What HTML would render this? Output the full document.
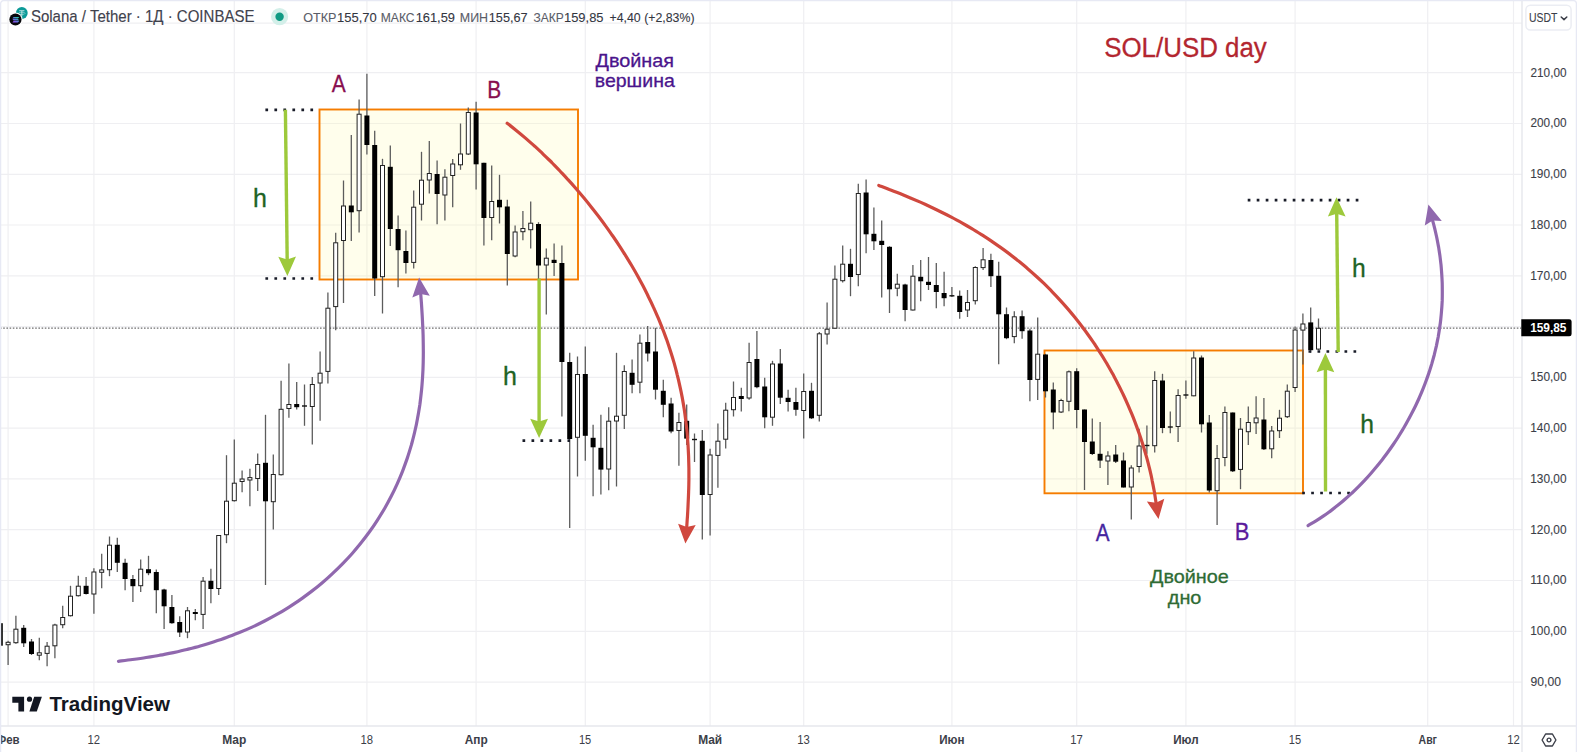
<!DOCTYPE html>
<html lang="ru"><head><meta charset="utf-8"><title>SOL/USD day — Solana / Tether</title>
<style>html,body{margin:0;padding:0;background:#fff;}body{width:1577px;height:752px;overflow:hidden;font-family:'Liberation Sans', Arial, sans-serif;}svg{display:block;font-family:'Liberation Sans', Arial, sans-serif;}</style>
</head><body>
<svg width="1577" height="752" viewBox="0 0 1577 752">
<rect x="0" y="0" width="1577" height="752" fill="#ffffff"/>
<g id="grid" stroke="#efeff2" stroke-width="1.2" shape-rendering="auto">
<line x1="8.1" y1="0" x2="8.1" y2="726"/>
<line x1="93.9" y1="0" x2="93.9" y2="726"/>
<line x1="234.3" y1="0" x2="234.3" y2="726"/>
<line x1="366.9" y1="0" x2="366.9" y2="726"/>
<line x1="476.1" y1="0" x2="476.1" y2="726"/>
<line x1="585.3" y1="0" x2="585.3" y2="726"/>
<line x1="710.1" y1="0" x2="710.1" y2="726"/>
<line x1="803.7" y1="0" x2="803.7" y2="726"/>
<line x1="951.9" y1="0" x2="951.9" y2="726"/>
<line x1="1076.7" y1="0" x2="1076.7" y2="726"/>
<line x1="1185.9" y1="0" x2="1185.9" y2="726"/>
<line x1="1295.1" y1="0" x2="1295.1" y2="726"/>
<line x1="1427.7" y1="0" x2="1427.7" y2="726"/>
<line x1="1513.5" y1="0" x2="1513.5" y2="726"/>
<line x1="0" y1="23.2" x2="1522" y2="23.2"/>
<line x1="0" y1="72.7" x2="1522" y2="72.7"/>
<line x1="0" y1="123.5" x2="1522" y2="123.5"/>
<line x1="0" y1="174.3" x2="1522" y2="174.3"/>
<line x1="0" y1="225.0" x2="1522" y2="225.0"/>
<line x1="0" y1="275.8" x2="1522" y2="275.8"/>
<line x1="0" y1="326.6" x2="1522" y2="326.6"/>
<line x1="0" y1="377.4" x2="1522" y2="377.4"/>
<line x1="0" y1="428.2" x2="1522" y2="428.2"/>
<line x1="0" y1="478.9" x2="1522" y2="478.9"/>
<line x1="0" y1="529.7" x2="1522" y2="529.7"/>
<line x1="0" y1="580.5" x2="1522" y2="580.5"/>
<line x1="0" y1="631.3" x2="1522" y2="631.3"/>
<line x1="0" y1="682.1" x2="1522" y2="682.1"/>
</g>
<rect x="319.5" y="109.5" width="258.5" height="170.0" fill="rgba(255,250,150,0.18)" stroke="#f57c00" stroke-width="1.9"/>
<rect x="1044.5" y="350.5" width="258.5" height="142.8" fill="rgba(255,250,150,0.18)" stroke="#f57c00" stroke-width="1.9"/>
<line x1="0" y1="328.2" x2="1522" y2="328.2" stroke="#6e6e6e" stroke-width="1.3" stroke-dasharray="1.6 1.6"/>
<g id="candles">
<line x1="0.30" y1="618.2" x2="0.30" y2="650.8" stroke="#5c5c5c" stroke-width="1.3"/>
<rect x="-2.20" y="623.2" width="5.0" height="22.5" fill="#000"/>
<line x1="8.10" y1="640.8" x2="8.10" y2="665.0" stroke="#5c5c5c" stroke-width="1.3"/>
<rect x="6.10" y="642.3" width="4.0" height="2.4" fill="#fff" stroke="#222" stroke-width="1"/>
<line x1="15.90" y1="615.8" x2="15.90" y2="643.8" stroke="#5c5c5c" stroke-width="1.3"/>
<rect x="13.90" y="629.2" width="4.0" height="13.5" fill="#fff" stroke="#222" stroke-width="1"/>
<line x1="23.70" y1="625.0" x2="23.70" y2="647.0" stroke="#5c5c5c" stroke-width="1.3"/>
<rect x="21.20" y="627.8" width="5.0" height="15.5" fill="#000"/>
<line x1="31.50" y1="639.0" x2="31.50" y2="655.0" stroke="#5c5c5c" stroke-width="1.3"/>
<rect x="29.00" y="641.5" width="5.0" height="12.5" fill="#000"/>
<line x1="39.30" y1="637.8" x2="39.30" y2="660.2" stroke="#5c5c5c" stroke-width="1.3"/>
<rect x="37.30" y="652.8" width="4.0" height="2.4" fill="#fff" stroke="#222" stroke-width="1"/>
<line x1="47.10" y1="642.0" x2="47.10" y2="666.2" stroke="#5c5c5c" stroke-width="1.3"/>
<rect x="45.10" y="646.2" width="4.0" height="7.2" fill="#fff" stroke="#222" stroke-width="1"/>
<line x1="54.90" y1="623.8" x2="54.90" y2="658.2" stroke="#5c5c5c" stroke-width="1.3"/>
<rect x="52.90" y="625.0" width="4.0" height="20.8" fill="#fff" stroke="#222" stroke-width="1"/>
<line x1="62.70" y1="605.8" x2="62.70" y2="628.2" stroke="#5c5c5c" stroke-width="1.3"/>
<rect x="60.70" y="617.5" width="4.0" height="7.2" fill="#fff" stroke="#222" stroke-width="1"/>
<line x1="70.50" y1="585.8" x2="70.50" y2="616.5" stroke="#5c5c5c" stroke-width="1.3"/>
<rect x="68.50" y="596.2" width="4.0" height="19.5" fill="#fff" stroke="#222" stroke-width="1"/>
<line x1="78.30" y1="575.8" x2="78.30" y2="596.5" stroke="#5c5c5c" stroke-width="1.3"/>
<rect x="76.30" y="586.2" width="4.0" height="9.5" fill="#fff" stroke="#222" stroke-width="1"/>
<line x1="86.10" y1="577.0" x2="86.10" y2="594.5" stroke="#5c5c5c" stroke-width="1.3"/>
<rect x="83.60" y="585.8" width="5.0" height="8.2" fill="#000"/>
<line x1="93.90" y1="568.2" x2="93.90" y2="613.8" stroke="#5c5c5c" stroke-width="1.3"/>
<rect x="91.90" y="572.0" width="4.0" height="22.0" fill="#fff" stroke="#222" stroke-width="1"/>
<line x1="101.70" y1="553.8" x2="101.70" y2="588.2" stroke="#5c5c5c" stroke-width="1.3"/>
<rect x="99.70" y="569.9" width="4.0" height="2.4" fill="#fff" stroke="#222" stroke-width="1"/>
<line x1="109.50" y1="536.5" x2="109.50" y2="576.2" stroke="#5c5c5c" stroke-width="1.3"/>
<rect x="107.50" y="545.2" width="4.0" height="24.5" fill="#fff" stroke="#222" stroke-width="1"/>
<line x1="117.30" y1="537.8" x2="117.30" y2="572.0" stroke="#5c5c5c" stroke-width="1.3"/>
<rect x="114.80" y="544.8" width="5.0" height="18.0" fill="#000"/>
<line x1="125.10" y1="558.8" x2="125.10" y2="590.2" stroke="#5c5c5c" stroke-width="1.3"/>
<rect x="122.60" y="562.8" width="5.0" height="16.2" fill="#000"/>
<line x1="132.90" y1="575.0" x2="132.90" y2="602.0" stroke="#5c5c5c" stroke-width="1.3"/>
<rect x="130.40" y="579.0" width="5.0" height="7.2" fill="#000"/>
<line x1="140.70" y1="559.5" x2="140.70" y2="592.0" stroke="#5c5c5c" stroke-width="1.3"/>
<rect x="138.70" y="569.2" width="4.0" height="16.5" fill="#fff" stroke="#222" stroke-width="1"/>
<line x1="148.50" y1="555.8" x2="148.50" y2="575.2" stroke="#5c5c5c" stroke-width="1.3"/>
<rect x="146.00" y="569.2" width="5.0" height="4.0" fill="#000"/>
<line x1="156.30" y1="569.5" x2="156.30" y2="613.2" stroke="#5c5c5c" stroke-width="1.3"/>
<rect x="153.80" y="572.0" width="5.0" height="18.2" fill="#000"/>
<line x1="164.10" y1="588.8" x2="164.10" y2="629.0" stroke="#5c5c5c" stroke-width="1.3"/>
<rect x="161.60" y="589.5" width="5.0" height="16.8" fill="#000"/>
<line x1="171.90" y1="595.0" x2="171.90" y2="623.8" stroke="#5c5c5c" stroke-width="1.3"/>
<rect x="169.40" y="607.0" width="5.0" height="16.2" fill="#000"/>
<line x1="179.70" y1="616.2" x2="179.70" y2="637.0" stroke="#5c5c5c" stroke-width="1.3"/>
<rect x="177.20" y="622.0" width="5.0" height="10.5" fill="#000"/>
<line x1="187.50" y1="607.0" x2="187.50" y2="638.2" stroke="#5c5c5c" stroke-width="1.3"/>
<rect x="185.50" y="610.8" width="4.0" height="21.2" fill="#fff" stroke="#222" stroke-width="1"/>
<line x1="195.30" y1="609.0" x2="195.30" y2="620.2" stroke="#5c5c5c" stroke-width="1.3"/>
<rect x="192.80" y="612.0" width="5.0" height="2.0" fill="#000"/>
<line x1="203.10" y1="577.0" x2="203.10" y2="629.0" stroke="#5c5c5c" stroke-width="1.3"/>
<rect x="201.10" y="581.2" width="4.0" height="33.2" fill="#fff" stroke="#222" stroke-width="1"/>
<line x1="210.90" y1="568.8" x2="210.90" y2="603.2" stroke="#5c5c5c" stroke-width="1.3"/>
<rect x="208.40" y="580.8" width="5.0" height="8.2" fill="#000"/>
<line x1="218.70" y1="535.0" x2="218.70" y2="595.0" stroke="#5c5c5c" stroke-width="1.3"/>
<rect x="216.70" y="535.5" width="4.0" height="53.0" fill="#fff" stroke="#222" stroke-width="1"/>
<line x1="226.50" y1="455.2" x2="226.50" y2="543.2" stroke="#5c5c5c" stroke-width="1.3"/>
<rect x="224.50" y="501.2" width="4.0" height="33.5" fill="#fff" stroke="#222" stroke-width="1"/>
<line x1="234.30" y1="439.5" x2="234.30" y2="501.5" stroke="#5c5c5c" stroke-width="1.3"/>
<rect x="232.30" y="483.2" width="4.0" height="17.5" fill="#fff" stroke="#222" stroke-width="1"/>
<line x1="242.10" y1="470.5" x2="242.10" y2="492.3" stroke="#5c5c5c" stroke-width="1.3"/>
<rect x="240.10" y="479.0" width="4.0" height="2.5" fill="#fff" stroke="#222" stroke-width="1"/>
<line x1="249.90" y1="468.8" x2="249.90" y2="506.2" stroke="#5c5c5c" stroke-width="1.3"/>
<rect x="247.90" y="477.6" width="4.0" height="2.4" fill="#fff" stroke="#222" stroke-width="1"/>
<line x1="257.70" y1="453.5" x2="257.70" y2="491.0" stroke="#5c5c5c" stroke-width="1.3"/>
<rect x="255.70" y="464.5" width="4.0" height="14.0" fill="#fff" stroke="#222" stroke-width="1"/>
<line x1="265.50" y1="414.8" x2="265.50" y2="585.0" stroke="#5c5c5c" stroke-width="1.3"/>
<rect x="263.00" y="462.8" width="5.0" height="38.5" fill="#000"/>
<line x1="273.30" y1="454.6" x2="273.30" y2="529.5" stroke="#5c5c5c" stroke-width="1.3"/>
<rect x="271.30" y="474.5" width="4.0" height="27.2" fill="#fff" stroke="#222" stroke-width="1"/>
<line x1="281.10" y1="380.8" x2="281.10" y2="475.5" stroke="#5c5c5c" stroke-width="1.3"/>
<rect x="279.10" y="409.3" width="4.0" height="65.4" fill="#fff" stroke="#222" stroke-width="1"/>
<line x1="288.90" y1="363.5" x2="288.90" y2="417.8" stroke="#5c5c5c" stroke-width="1.3"/>
<rect x="286.90" y="404.5" width="4.0" height="4.0" fill="#fff" stroke="#222" stroke-width="1"/>
<line x1="296.70" y1="382.0" x2="296.70" y2="409.5" stroke="#5c5c5c" stroke-width="1.3"/>
<rect x="294.20" y="404.0" width="5.0" height="3.2" fill="#000"/>
<line x1="304.50" y1="384.5" x2="304.50" y2="425.8" stroke="#5c5c5c" stroke-width="1.3"/>
<line x1="302.00" y1="406.0" x2="307.00" y2="406.0" stroke="#111" stroke-width="1.4"/>
<line x1="312.30" y1="377.0" x2="312.30" y2="444.5" stroke="#5c5c5c" stroke-width="1.3"/>
<rect x="310.30" y="384.5" width="4.0" height="22.0" fill="#fff" stroke="#222" stroke-width="1"/>
<line x1="320.10" y1="351.5" x2="320.10" y2="420.8" stroke="#5c5c5c" stroke-width="1.3"/>
<rect x="318.10" y="373.2" width="4.0" height="9.8" fill="#fff" stroke="#222" stroke-width="1"/>
<line x1="327.90" y1="292.5" x2="327.90" y2="383.5" stroke="#5c5c5c" stroke-width="1.3"/>
<rect x="325.90" y="308.2" width="4.0" height="63.2" fill="#fff" stroke="#222" stroke-width="1"/>
<line x1="335.70" y1="232.8" x2="335.70" y2="330.2" stroke="#5c5c5c" stroke-width="1.3"/>
<rect x="333.70" y="242.8" width="4.0" height="63.8" fill="#fff" stroke="#222" stroke-width="1"/>
<line x1="343.50" y1="180.5" x2="343.50" y2="303.0" stroke="#5c5c5c" stroke-width="1.3"/>
<rect x="341.50" y="206.0" width="4.0" height="34.5" fill="#fff" stroke="#222" stroke-width="1"/>
<line x1="351.30" y1="135.0" x2="351.30" y2="241.0" stroke="#5c5c5c" stroke-width="1.3"/>
<rect x="348.80" y="205.5" width="5.0" height="6.8" fill="#000"/>
<line x1="359.10" y1="99.5" x2="359.10" y2="232.5" stroke="#5c5c5c" stroke-width="1.3"/>
<rect x="357.10" y="114.2" width="4.0" height="96.5" fill="#fff" stroke="#222" stroke-width="1"/>
<line x1="366.90" y1="73.8" x2="366.90" y2="154.5" stroke="#5c5c5c" stroke-width="1.3"/>
<rect x="364.40" y="115.5" width="5.0" height="29.5" fill="#000"/>
<line x1="374.70" y1="130.8" x2="374.70" y2="296.0" stroke="#5c5c5c" stroke-width="1.3"/>
<rect x="372.20" y="145.0" width="5.0" height="133.5" fill="#000"/>
<line x1="382.50" y1="158.8" x2="382.50" y2="313.5" stroke="#5c5c5c" stroke-width="1.3"/>
<rect x="380.50" y="165.5" width="4.0" height="111.2" fill="#fff" stroke="#222" stroke-width="1"/>
<line x1="390.30" y1="145.5" x2="390.30" y2="246.0" stroke="#5c5c5c" stroke-width="1.3"/>
<rect x="387.80" y="166.8" width="5.0" height="62.2" fill="#000"/>
<line x1="398.10" y1="215.5" x2="398.10" y2="287.2" stroke="#5c5c5c" stroke-width="1.3"/>
<rect x="395.60" y="229.0" width="5.0" height="21.2" fill="#000"/>
<line x1="405.90" y1="230.5" x2="405.90" y2="273.5" stroke="#5c5c5c" stroke-width="1.3"/>
<rect x="403.40" y="251.0" width="5.0" height="12.0" fill="#000"/>
<line x1="413.70" y1="190.5" x2="413.70" y2="268.5" stroke="#5c5c5c" stroke-width="1.3"/>
<rect x="411.70" y="207.2" width="4.0" height="55.2" fill="#fff" stroke="#222" stroke-width="1"/>
<line x1="421.50" y1="151.8" x2="421.50" y2="220.5" stroke="#5c5c5c" stroke-width="1.3"/>
<rect x="419.50" y="180.2" width="4.0" height="24.0" fill="#fff" stroke="#222" stroke-width="1"/>
<line x1="429.30" y1="141.0" x2="429.30" y2="193.5" stroke="#5c5c5c" stroke-width="1.3"/>
<rect x="427.30" y="173.5" width="4.0" height="6.5" fill="#fff" stroke="#222" stroke-width="1"/>
<line x1="437.10" y1="160.5" x2="437.10" y2="224.2" stroke="#5c5c5c" stroke-width="1.3"/>
<rect x="434.60" y="174.0" width="5.0" height="20.0" fill="#000"/>
<line x1="444.90" y1="169.2" x2="444.90" y2="220.5" stroke="#5c5c5c" stroke-width="1.3"/>
<rect x="442.90" y="177.2" width="4.0" height="17.8" fill="#fff" stroke="#222" stroke-width="1"/>
<line x1="452.70" y1="159.0" x2="452.70" y2="207.2" stroke="#5c5c5c" stroke-width="1.3"/>
<rect x="450.70" y="164.0" width="4.0" height="11.5" fill="#fff" stroke="#222" stroke-width="1"/>
<line x1="460.50" y1="123.5" x2="460.50" y2="169.8" stroke="#5c5c5c" stroke-width="1.3"/>
<rect x="458.50" y="154.0" width="4.0" height="10.8" fill="#fff" stroke="#222" stroke-width="1"/>
<line x1="468.30" y1="107.5" x2="468.30" y2="155.0" stroke="#5c5c5c" stroke-width="1.3"/>
<rect x="466.30" y="112.5" width="4.0" height="41.5" fill="#fff" stroke="#222" stroke-width="1"/>
<line x1="476.10" y1="101.8" x2="476.10" y2="189.5" stroke="#5c5c5c" stroke-width="1.3"/>
<rect x="473.60" y="112.5" width="5.0" height="51.8" fill="#000"/>
<line x1="483.90" y1="162.8" x2="483.90" y2="245.5" stroke="#5c5c5c" stroke-width="1.3"/>
<rect x="481.40" y="162.8" width="5.0" height="55.2" fill="#000"/>
<line x1="491.70" y1="165.5" x2="491.70" y2="240.2" stroke="#5c5c5c" stroke-width="1.3"/>
<rect x="489.70" y="201.5" width="4.0" height="16.0" fill="#fff" stroke="#222" stroke-width="1"/>
<line x1="499.50" y1="174.8" x2="499.50" y2="223.5" stroke="#5c5c5c" stroke-width="1.3"/>
<rect x="497.00" y="199.8" width="5.0" height="7.5" fill="#000"/>
<line x1="507.30" y1="199.8" x2="507.30" y2="285.5" stroke="#5c5c5c" stroke-width="1.3"/>
<rect x="504.80" y="206.5" width="5.0" height="47.5" fill="#000"/>
<line x1="515.10" y1="225.5" x2="515.10" y2="257.2" stroke="#5c5c5c" stroke-width="1.3"/>
<rect x="513.10" y="232.0" width="4.0" height="24.0" fill="#fff" stroke="#222" stroke-width="1"/>
<line x1="522.90" y1="211.0" x2="522.90" y2="240.2" stroke="#5c5c5c" stroke-width="1.3"/>
<rect x="520.90" y="228.5" width="4.0" height="3.2" fill="#fff" stroke="#222" stroke-width="1"/>
<line x1="530.70" y1="201.5" x2="530.70" y2="248.5" stroke="#5c5c5c" stroke-width="1.3"/>
<rect x="528.70" y="223.2" width="4.0" height="6.5" fill="#fff" stroke="#222" stroke-width="1"/>
<line x1="538.50" y1="222.2" x2="538.50" y2="279.8" stroke="#5c5c5c" stroke-width="1.3"/>
<rect x="536.00" y="224.0" width="5.0" height="41.5" fill="#000"/>
<line x1="546.30" y1="248.5" x2="546.30" y2="314.5" stroke="#5c5c5c" stroke-width="1.3"/>
<rect x="544.30" y="258.2" width="4.0" height="6.8" fill="#fff" stroke="#222" stroke-width="1"/>
<line x1="554.10" y1="243.5" x2="554.10" y2="276.0" stroke="#5c5c5c" stroke-width="1.3"/>
<rect x="551.60" y="259.8" width="5.0" height="3.2" fill="#000"/>
<line x1="561.90" y1="245.5" x2="561.90" y2="416.5" stroke="#5c5c5c" stroke-width="1.3"/>
<rect x="559.40" y="263.0" width="5.0" height="99.0" fill="#000"/>
<line x1="569.70" y1="352.8" x2="569.70" y2="528.0" stroke="#5c5c5c" stroke-width="1.3"/>
<rect x="567.20" y="362.0" width="5.0" height="77.0" fill="#000"/>
<line x1="577.50" y1="356.5" x2="577.50" y2="476.5" stroke="#5c5c5c" stroke-width="1.3"/>
<rect x="575.50" y="374.5" width="4.0" height="62.8" fill="#fff" stroke="#222" stroke-width="1"/>
<line x1="585.30" y1="346.5" x2="585.30" y2="460.8" stroke="#5c5c5c" stroke-width="1.3"/>
<rect x="582.80" y="374.0" width="5.0" height="61.8" fill="#000"/>
<line x1="593.10" y1="424.8" x2="593.10" y2="496.2" stroke="#5c5c5c" stroke-width="1.3"/>
<rect x="590.60" y="437.8" width="5.0" height="9.5" fill="#000"/>
<line x1="600.90" y1="414.8" x2="600.90" y2="494.5" stroke="#5c5c5c" stroke-width="1.3"/>
<rect x="598.40" y="447.8" width="5.0" height="21.8" fill="#000"/>
<line x1="608.70" y1="407.2" x2="608.70" y2="490.2" stroke="#5c5c5c" stroke-width="1.3"/>
<rect x="606.70" y="421.2" width="4.0" height="47.8" fill="#fff" stroke="#222" stroke-width="1"/>
<line x1="616.50" y1="352.8" x2="616.50" y2="486.5" stroke="#5c5c5c" stroke-width="1.3"/>
<rect x="614.50" y="416.2" width="4.0" height="4.8" fill="#fff" stroke="#222" stroke-width="1"/>
<line x1="624.30" y1="365.2" x2="624.30" y2="429.0" stroke="#5c5c5c" stroke-width="1.3"/>
<rect x="622.30" y="371.5" width="4.0" height="43.8" fill="#fff" stroke="#222" stroke-width="1"/>
<line x1="632.10" y1="359.5" x2="632.10" y2="393.2" stroke="#5c5c5c" stroke-width="1.3"/>
<rect x="629.60" y="372.8" width="5.0" height="12.0" fill="#000"/>
<line x1="639.90" y1="334.5" x2="639.90" y2="393.2" stroke="#5c5c5c" stroke-width="1.3"/>
<rect x="637.90" y="343.2" width="4.0" height="39.0" fill="#fff" stroke="#222" stroke-width="1"/>
<line x1="647.70" y1="326.0" x2="647.70" y2="361.5" stroke="#5c5c5c" stroke-width="1.3"/>
<rect x="645.20" y="342.0" width="5.0" height="11.5" fill="#000"/>
<line x1="655.50" y1="327.8" x2="655.50" y2="399.5" stroke="#5c5c5c" stroke-width="1.3"/>
<rect x="653.00" y="351.5" width="5.0" height="38.2" fill="#000"/>
<line x1="663.30" y1="379.8" x2="663.30" y2="417.2" stroke="#5c5c5c" stroke-width="1.3"/>
<rect x="660.80" y="390.8" width="5.0" height="14.0" fill="#000"/>
<line x1="671.10" y1="397.8" x2="671.10" y2="433.2" stroke="#5c5c5c" stroke-width="1.3"/>
<rect x="668.60" y="403.5" width="5.0" height="28.0" fill="#000"/>
<line x1="678.90" y1="412.8" x2="678.90" y2="465.8" stroke="#5c5c5c" stroke-width="1.3"/>
<rect x="676.90" y="422.5" width="4.0" height="8.0" fill="#fff" stroke="#222" stroke-width="1"/>
<line x1="686.70" y1="404.5" x2="686.70" y2="445.0" stroke="#5c5c5c" stroke-width="1.3"/>
<rect x="684.20" y="420.8" width="5.0" height="17.8" fill="#000"/>
<line x1="694.50" y1="433.5" x2="694.50" y2="462.0" stroke="#5c5c5c" stroke-width="1.3"/>
<line x1="692.00" y1="439.5" x2="697.00" y2="439.5" stroke="#111" stroke-width="1.4"/>
<line x1="702.30" y1="430.0" x2="702.30" y2="539.5" stroke="#5c5c5c" stroke-width="1.3"/>
<rect x="699.80" y="440.8" width="5.0" height="54.2" fill="#000"/>
<line x1="710.10" y1="448.8" x2="710.10" y2="535.5" stroke="#5c5c5c" stroke-width="1.3"/>
<rect x="708.10" y="455.0" width="4.0" height="39.5" fill="#fff" stroke="#222" stroke-width="1"/>
<line x1="717.90" y1="423.5" x2="717.90" y2="487.8" stroke="#5c5c5c" stroke-width="1.3"/>
<rect x="715.90" y="441.2" width="4.0" height="14.2" fill="#fff" stroke="#222" stroke-width="1"/>
<line x1="725.70" y1="402.8" x2="725.70" y2="448.5" stroke="#5c5c5c" stroke-width="1.3"/>
<rect x="723.70" y="410.2" width="4.0" height="29.0" fill="#fff" stroke="#222" stroke-width="1"/>
<line x1="733.50" y1="381.5" x2="733.50" y2="416.5" stroke="#5c5c5c" stroke-width="1.3"/>
<rect x="731.50" y="397.5" width="4.0" height="12.2" fill="#fff" stroke="#222" stroke-width="1"/>
<line x1="741.30" y1="387.8" x2="741.30" y2="411.5" stroke="#5c5c5c" stroke-width="1.3"/>
<rect x="738.80" y="396.0" width="5.0" height="3.0" fill="#000"/>
<line x1="749.10" y1="342.8" x2="749.10" y2="399.8" stroke="#5c5c5c" stroke-width="1.3"/>
<rect x="747.10" y="362.5" width="4.0" height="35.5" fill="#fff" stroke="#222" stroke-width="1"/>
<line x1="756.90" y1="331.0" x2="756.90" y2="388.2" stroke="#5c5c5c" stroke-width="1.3"/>
<rect x="754.40" y="359.0" width="5.0" height="28.2" fill="#000"/>
<line x1="764.70" y1="377.8" x2="764.70" y2="428.2" stroke="#5c5c5c" stroke-width="1.3"/>
<rect x="762.20" y="386.5" width="5.0" height="30.8" fill="#000"/>
<line x1="772.50" y1="360.8" x2="772.50" y2="425.8" stroke="#5c5c5c" stroke-width="1.3"/>
<rect x="770.50" y="364.0" width="4.0" height="53.2" fill="#fff" stroke="#222" stroke-width="1"/>
<line x1="780.30" y1="349.0" x2="780.30" y2="404.0" stroke="#5c5c5c" stroke-width="1.3"/>
<rect x="777.80" y="363.5" width="5.0" height="34.2" fill="#000"/>
<line x1="788.10" y1="389.8" x2="788.10" y2="411.5" stroke="#5c5c5c" stroke-width="1.3"/>
<rect x="785.60" y="397.8" width="5.0" height="4.2" fill="#000"/>
<line x1="795.90" y1="387.8" x2="795.90" y2="415.8" stroke="#5c5c5c" stroke-width="1.3"/>
<rect x="793.40" y="402.0" width="5.0" height="7.8" fill="#000"/>
<line x1="803.70" y1="373.5" x2="803.70" y2="438.5" stroke="#5c5c5c" stroke-width="1.3"/>
<rect x="801.70" y="391.5" width="4.0" height="19.0" fill="#fff" stroke="#222" stroke-width="1"/>
<line x1="811.50" y1="382.8" x2="811.50" y2="419.0" stroke="#5c5c5c" stroke-width="1.3"/>
<rect x="809.00" y="390.8" width="5.0" height="27.5" fill="#000"/>
<line x1="819.30" y1="332.0" x2="819.30" y2="421.5" stroke="#5c5c5c" stroke-width="1.3"/>
<rect x="817.30" y="333.8" width="4.0" height="81.5" fill="#fff" stroke="#222" stroke-width="1"/>
<line x1="827.10" y1="302.5" x2="827.10" y2="344.5" stroke="#5c5c5c" stroke-width="1.3"/>
<rect x="825.10" y="329.2" width="4.0" height="4.8" fill="#fff" stroke="#222" stroke-width="1"/>
<line x1="834.90" y1="265.5" x2="834.90" y2="328.8" stroke="#5c5c5c" stroke-width="1.3"/>
<rect x="832.90" y="279.2" width="4.0" height="49.0" fill="#fff" stroke="#222" stroke-width="1"/>
<line x1="842.70" y1="245.5" x2="842.70" y2="282.5" stroke="#5c5c5c" stroke-width="1.3"/>
<rect x="840.70" y="264.2" width="4.0" height="16.5" fill="#fff" stroke="#222" stroke-width="1"/>
<line x1="850.50" y1="248.8" x2="850.50" y2="296.2" stroke="#5c5c5c" stroke-width="1.3"/>
<rect x="848.00" y="263.8" width="5.0" height="13.2" fill="#000"/>
<line x1="858.30" y1="183.8" x2="858.30" y2="286.2" stroke="#5c5c5c" stroke-width="1.3"/>
<rect x="856.30" y="193.5" width="4.0" height="81.0" fill="#fff" stroke="#222" stroke-width="1"/>
<line x1="866.10" y1="179.5" x2="866.10" y2="253.2" stroke="#5c5c5c" stroke-width="1.3"/>
<rect x="863.60" y="192.5" width="5.0" height="41.8" fill="#000"/>
<line x1="873.90" y1="207.5" x2="873.90" y2="250.0" stroke="#5c5c5c" stroke-width="1.3"/>
<rect x="871.40" y="233.8" width="5.0" height="7.5" fill="#000"/>
<line x1="881.70" y1="220.5" x2="881.70" y2="297.5" stroke="#5c5c5c" stroke-width="1.3"/>
<rect x="879.20" y="240.8" width="5.0" height="4.2" fill="#000"/>
<line x1="889.50" y1="246.2" x2="889.50" y2="313.0" stroke="#5c5c5c" stroke-width="1.3"/>
<rect x="887.00" y="246.8" width="5.0" height="42.5" fill="#000"/>
<line x1="897.30" y1="273.8" x2="897.30" y2="296.2" stroke="#5c5c5c" stroke-width="1.3"/>
<rect x="895.30" y="284.2" width="4.0" height="4.0" fill="#fff" stroke="#222" stroke-width="1"/>
<line x1="905.10" y1="283.8" x2="905.10" y2="321.2" stroke="#5c5c5c" stroke-width="1.3"/>
<rect x="902.60" y="284.5" width="5.0" height="25.5" fill="#000"/>
<line x1="912.90" y1="265.0" x2="912.90" y2="310.5" stroke="#5c5c5c" stroke-width="1.3"/>
<rect x="910.90" y="276.2" width="4.0" height="33.8" fill="#fff" stroke="#222" stroke-width="1"/>
<line x1="920.70" y1="260.0" x2="920.70" y2="301.2" stroke="#5c5c5c" stroke-width="1.3"/>
<rect x="918.20" y="276.8" width="5.0" height="4.5" fill="#000"/>
<line x1="928.50" y1="257.0" x2="928.50" y2="290.0" stroke="#5c5c5c" stroke-width="1.3"/>
<rect x="926.00" y="281.8" width="5.0" height="3.2" fill="#000"/>
<line x1="936.30" y1="263.0" x2="936.30" y2="308.2" stroke="#5c5c5c" stroke-width="1.3"/>
<rect x="933.80" y="285.0" width="5.0" height="7.0" fill="#000"/>
<line x1="944.10" y1="271.8" x2="944.10" y2="306.2" stroke="#5c5c5c" stroke-width="1.3"/>
<rect x="941.60" y="293.0" width="5.0" height="5.2" fill="#000"/>
<line x1="951.90" y1="287.0" x2="951.90" y2="297.0" stroke="#5c5c5c" stroke-width="1.3"/>
<line x1="949.40" y1="295.8" x2="954.40" y2="295.8" stroke="#111" stroke-width="1.4"/>
<line x1="959.70" y1="290.5" x2="959.70" y2="318.8" stroke="#5c5c5c" stroke-width="1.3"/>
<rect x="957.20" y="295.8" width="5.0" height="16.2" fill="#000"/>
<line x1="967.50" y1="290.0" x2="967.50" y2="317.0" stroke="#5c5c5c" stroke-width="1.3"/>
<rect x="965.50" y="302.5" width="4.0" height="7.5" fill="#fff" stroke="#222" stroke-width="1"/>
<line x1="975.30" y1="266.2" x2="975.30" y2="304.5" stroke="#5c5c5c" stroke-width="1.3"/>
<rect x="973.30" y="267.5" width="4.0" height="33.2" fill="#fff" stroke="#222" stroke-width="1"/>
<line x1="983.10" y1="248.0" x2="983.10" y2="270.0" stroke="#5c5c5c" stroke-width="1.3"/>
<rect x="981.10" y="259.8" width="4.0" height="7.8" fill="#fff" stroke="#222" stroke-width="1"/>
<line x1="990.90" y1="253.8" x2="990.90" y2="287.0" stroke="#5c5c5c" stroke-width="1.3"/>
<rect x="988.40" y="260.0" width="5.0" height="16.2" fill="#000"/>
<line x1="998.70" y1="261.8" x2="998.70" y2="364.2" stroke="#5c5c5c" stroke-width="1.3"/>
<rect x="996.20" y="275.8" width="5.0" height="38.5" fill="#000"/>
<line x1="1006.50" y1="307.5" x2="1006.50" y2="339.2" stroke="#5c5c5c" stroke-width="1.3"/>
<rect x="1004.00" y="314.2" width="5.0" height="24.0" fill="#000"/>
<line x1="1014.30" y1="311.2" x2="1014.30" y2="343.2" stroke="#5c5c5c" stroke-width="1.3"/>
<rect x="1012.30" y="316.8" width="4.0" height="19.8" fill="#fff" stroke="#222" stroke-width="1"/>
<line x1="1022.10" y1="310.5" x2="1022.10" y2="338.8" stroke="#5c5c5c" stroke-width="1.3"/>
<rect x="1019.60" y="316.2" width="5.0" height="15.0" fill="#000"/>
<line x1="1029.90" y1="328.8" x2="1029.90" y2="401.2" stroke="#5c5c5c" stroke-width="1.3"/>
<rect x="1027.40" y="330.5" width="5.0" height="49.5" fill="#000"/>
<line x1="1037.70" y1="317.5" x2="1037.70" y2="400.0" stroke="#5c5c5c" stroke-width="1.3"/>
<rect x="1035.70" y="354.2" width="4.0" height="25.2" fill="#fff" stroke="#222" stroke-width="1"/>
<line x1="1045.50" y1="353.8" x2="1045.50" y2="397.5" stroke="#5c5c5c" stroke-width="1.3"/>
<rect x="1043.00" y="354.5" width="5.0" height="36.8" fill="#000"/>
<line x1="1053.30" y1="382.5" x2="1053.30" y2="429.2" stroke="#5c5c5c" stroke-width="1.3"/>
<rect x="1050.80" y="389.5" width="5.0" height="23.0" fill="#000"/>
<line x1="1061.10" y1="398.8" x2="1061.10" y2="413.0" stroke="#5c5c5c" stroke-width="1.3"/>
<rect x="1059.10" y="400.5" width="4.0" height="11.5" fill="#fff" stroke="#222" stroke-width="1"/>
<line x1="1068.90" y1="370.5" x2="1068.90" y2="411.2" stroke="#5c5c5c" stroke-width="1.3"/>
<rect x="1066.90" y="371.8" width="4.0" height="29.5" fill="#fff" stroke="#222" stroke-width="1"/>
<line x1="1076.70" y1="368.2" x2="1076.70" y2="428.2" stroke="#5c5c5c" stroke-width="1.3"/>
<rect x="1074.20" y="371.2" width="5.0" height="38.8" fill="#000"/>
<line x1="1084.50" y1="409.5" x2="1084.50" y2="490.0" stroke="#5c5c5c" stroke-width="1.3"/>
<rect x="1082.00" y="409.5" width="5.0" height="32.5" fill="#000"/>
<line x1="1092.30" y1="418.5" x2="1092.30" y2="455.0" stroke="#5c5c5c" stroke-width="1.3"/>
<rect x="1089.80" y="441.5" width="5.0" height="12.5" fill="#000"/>
<line x1="1100.10" y1="422.0" x2="1100.10" y2="468.0" stroke="#5c5c5c" stroke-width="1.3"/>
<rect x="1097.60" y="453.8" width="5.0" height="6.8" fill="#000"/>
<line x1="1107.90" y1="451.2" x2="1107.90" y2="485.0" stroke="#5c5c5c" stroke-width="1.3"/>
<rect x="1105.90" y="456.0" width="4.0" height="5.0" fill="#fff" stroke="#222" stroke-width="1"/>
<line x1="1115.70" y1="445.0" x2="1115.70" y2="463.0" stroke="#5c5c5c" stroke-width="1.3"/>
<rect x="1113.20" y="454.5" width="5.0" height="7.2" fill="#000"/>
<line x1="1123.50" y1="452.5" x2="1123.50" y2="487.5" stroke="#5c5c5c" stroke-width="1.3"/>
<rect x="1121.00" y="460.5" width="5.0" height="27.0" fill="#000"/>
<line x1="1131.30" y1="465.2" x2="1131.30" y2="519.5" stroke="#5c5c5c" stroke-width="1.3"/>
<rect x="1129.30" y="468.0" width="4.0" height="19.0" fill="#fff" stroke="#222" stroke-width="1"/>
<line x1="1139.10" y1="428.8" x2="1139.10" y2="472.5" stroke="#5c5c5c" stroke-width="1.3"/>
<rect x="1137.10" y="446.0" width="4.0" height="20.5" fill="#fff" stroke="#222" stroke-width="1"/>
<line x1="1146.90" y1="425.5" x2="1146.90" y2="453.8" stroke="#5c5c5c" stroke-width="1.3"/>
<line x1="1144.40" y1="445.5" x2="1149.40" y2="445.5" stroke="#111" stroke-width="1.4"/>
<line x1="1154.70" y1="371.2" x2="1154.70" y2="452.5" stroke="#5c5c5c" stroke-width="1.3"/>
<rect x="1152.70" y="380.5" width="4.0" height="65.2" fill="#fff" stroke="#222" stroke-width="1"/>
<line x1="1162.50" y1="373.8" x2="1162.50" y2="433.2" stroke="#5c5c5c" stroke-width="1.3"/>
<rect x="1160.00" y="380.5" width="5.0" height="47.5" fill="#000"/>
<line x1="1170.30" y1="411.5" x2="1170.30" y2="433.2" stroke="#5c5c5c" stroke-width="1.3"/>
<line x1="1167.80" y1="427.0" x2="1172.80" y2="427.0" stroke="#111" stroke-width="1.4"/>
<line x1="1178.10" y1="389.2" x2="1178.10" y2="442.0" stroke="#5c5c5c" stroke-width="1.3"/>
<rect x="1176.10" y="395.5" width="4.0" height="31.0" fill="#fff" stroke="#222" stroke-width="1"/>
<line x1="1185.90" y1="380.5" x2="1185.90" y2="398.8" stroke="#5c5c5c" stroke-width="1.3"/>
<line x1="1183.40" y1="395.0" x2="1188.40" y2="395.0" stroke="#111" stroke-width="1.4"/>
<line x1="1193.70" y1="351.2" x2="1193.70" y2="396.2" stroke="#5c5c5c" stroke-width="1.3"/>
<rect x="1191.70" y="358.0" width="4.0" height="37.8" fill="#fff" stroke="#222" stroke-width="1"/>
<line x1="1201.50" y1="355.5" x2="1201.50" y2="432.5" stroke="#5c5c5c" stroke-width="1.3"/>
<rect x="1199.00" y="357.5" width="5.0" height="66.8" fill="#000"/>
<line x1="1209.30" y1="415.0" x2="1209.30" y2="492.5" stroke="#5c5c5c" stroke-width="1.3"/>
<rect x="1206.80" y="422.5" width="5.0" height="68.0" fill="#000"/>
<line x1="1217.10" y1="445.0" x2="1217.10" y2="525.0" stroke="#5c5c5c" stroke-width="1.3"/>
<rect x="1215.10" y="458.5" width="4.0" height="32.2" fill="#fff" stroke="#222" stroke-width="1"/>
<line x1="1224.90" y1="406.5" x2="1224.90" y2="466.2" stroke="#5c5c5c" stroke-width="1.3"/>
<rect x="1222.90" y="412.5" width="4.0" height="45.0" fill="#fff" stroke="#222" stroke-width="1"/>
<line x1="1232.70" y1="412.5" x2="1232.70" y2="472.0" stroke="#5c5c5c" stroke-width="1.3"/>
<rect x="1230.20" y="412.5" width="5.0" height="58.8" fill="#000"/>
<line x1="1240.50" y1="418.0" x2="1240.50" y2="489.2" stroke="#5c5c5c" stroke-width="1.3"/>
<rect x="1238.50" y="429.2" width="4.0" height="40.2" fill="#fff" stroke="#222" stroke-width="1"/>
<line x1="1248.30" y1="406.5" x2="1248.30" y2="445.0" stroke="#5c5c5c" stroke-width="1.3"/>
<rect x="1246.30" y="422.5" width="4.0" height="9.2" fill="#fff" stroke="#222" stroke-width="1"/>
<line x1="1256.10" y1="396.2" x2="1256.10" y2="434.0" stroke="#5c5c5c" stroke-width="1.3"/>
<rect x="1254.10" y="418.0" width="4.0" height="4.8" fill="#fff" stroke="#222" stroke-width="1"/>
<line x1="1263.90" y1="398.0" x2="1263.90" y2="450.0" stroke="#5c5c5c" stroke-width="1.3"/>
<rect x="1261.40" y="419.5" width="5.0" height="29.8" fill="#000"/>
<line x1="1271.70" y1="426.0" x2="1271.70" y2="458.2" stroke="#5c5c5c" stroke-width="1.3"/>
<rect x="1269.70" y="431.0" width="4.0" height="17.8" fill="#fff" stroke="#222" stroke-width="1"/>
<line x1="1279.50" y1="409.8" x2="1279.50" y2="438.0" stroke="#5c5c5c" stroke-width="1.3"/>
<rect x="1277.50" y="418.2" width="4.0" height="12.5" fill="#fff" stroke="#222" stroke-width="1"/>
<line x1="1287.30" y1="384.5" x2="1287.30" y2="418.0" stroke="#5c5c5c" stroke-width="1.3"/>
<rect x="1285.30" y="391.2" width="4.0" height="25.5" fill="#fff" stroke="#222" stroke-width="1"/>
<line x1="1295.10" y1="326.5" x2="1295.10" y2="392.0" stroke="#5c5c5c" stroke-width="1.3"/>
<rect x="1293.10" y="330.0" width="4.0" height="57.5" fill="#fff" stroke="#222" stroke-width="1"/>
<line x1="1302.90" y1="313.5" x2="1302.90" y2="364.5" stroke="#5c5c5c" stroke-width="1.3"/>
<rect x="1300.90" y="324.0" width="4.0" height="6.1" fill="#fff" stroke="#222" stroke-width="1"/>
<line x1="1310.70" y1="307.6" x2="1310.70" y2="352.8" stroke="#5c5c5c" stroke-width="1.3"/>
<rect x="1308.20" y="322.4" width="5.0" height="27.8" fill="#000"/>
<line x1="1318.50" y1="318.5" x2="1318.50" y2="350.0" stroke="#5c5c5c" stroke-width="1.3"/>
<rect x="1316.50" y="328.3" width="4.0" height="20.8" fill="#fff" stroke="#222" stroke-width="1"/>
</g>
<line x1="265.4" y1="109.8" x2="313.8" y2="109.8" stroke="#191c28" stroke-width="2.7" stroke-dasharray="2.7 6.3"/>
<line x1="265.4" y1="278.5" x2="313.8" y2="278.5" stroke="#191c28" stroke-width="2.7" stroke-dasharray="2.7 6.3"/>
<line x1="522.5" y1="440.7" x2="570.0" y2="440.7" stroke="#191c28" stroke-width="2.7" stroke-dasharray="2.7 6.3"/>
<line x1="1247.7" y1="200.1" x2="1358.6" y2="200.1" stroke="#191c28" stroke-width="2.7" stroke-dasharray="2.7 6.3"/>
<line x1="1308.5" y1="351.5" x2="1356.4" y2="351.5" stroke="#191c28" stroke-width="2.7" stroke-dasharray="2.7 6.3"/>
<line x1="1302.2" y1="493.0" x2="1350.0" y2="493.0" stroke="#191c28" stroke-width="2.7" stroke-dasharray="2.7 6.3"/>
<line x1="285.4" y1="109.8" x2="287.2" y2="261.0" stroke="#9dc93b" stroke-width="3.4"/>
<path d="M287.4 276.0 L278.3 256.8 L287.2 259.4 L296.0 256.6 Z" fill="#9dc93b"/>
<line x1="539.1" y1="278.5" x2="539.1" y2="423.0" stroke="#9dc93b" stroke-width="3.4"/>
<path d="M539.1 438.0 L530.2 418.7 L539.1 421.4 L548.0 418.7 Z" fill="#9dc93b"/>
<line x1="1325.5" y1="491.4" x2="1325.4" y2="368.0" stroke="#9dc93b" stroke-width="3.4"/>
<path d="M1325.4 353.0 L1334.3 372.3 L1325.4 369.6 L1316.6 372.3 Z" fill="#9dc93b"/>
<line x1="1338.2" y1="352.0" x2="1336.7" y2="212.2" stroke="#9dc93b" stroke-width="3.4"/>
<path d="M1336.5 197.2 L1345.6 216.4 L1336.7 213.8 L1327.9 216.6 Z" fill="#9dc93b"/>
<path d="M118.5 661.3 C120.8 661.0 127.8 660.2 132.4 659.5 C137.0 658.9 141.6 658.3 146.1 657.5 C150.7 656.8 155.3 656.1 159.8 655.2 C164.4 654.4 168.9 653.5 173.4 652.6 C177.9 651.6 182.4 650.6 186.9 649.5 C191.3 648.4 195.8 647.3 200.2 646.0 C204.7 644.8 209.1 643.4 213.4 642.0 C217.8 640.6 222.2 639.2 226.5 637.6 C230.8 636.0 235.1 634.3 239.4 632.6 C243.7 630.8 247.9 629.0 252.1 627.1 C256.3 625.2 260.5 623.1 264.6 621.0 C268.7 618.9 272.8 616.7 276.8 614.4 C280.8 612.2 284.8 609.8 288.7 607.3 C292.6 604.8 296.5 602.3 300.3 599.6 C304.1 597.0 307.8 594.2 311.5 591.4 C315.2 588.6 318.8 585.7 322.3 582.7 C325.9 579.7 329.4 576.6 332.7 573.4 C336.1 570.3 339.5 567.0 342.7 563.7 C345.9 560.4 349.1 557.0 352.2 553.5 C355.2 550.0 358.2 546.5 361.1 542.8 C364.0 539.2 366.8 535.5 369.5 531.8 C372.2 528.0 374.8 524.2 377.3 520.3 C379.8 516.4 382.3 512.5 384.6 508.5 C386.9 504.5 389.1 500.4 391.2 496.3 C393.3 492.2 395.3 488.0 397.2 483.8 C399.1 479.6 400.9 475.4 402.6 471.1 C404.2 466.8 405.8 462.4 407.3 458.1 C408.8 453.7 410.1 449.3 411.4 444.9 C412.6 440.4 413.8 436.0 414.8 431.5 C415.9 427.0 416.8 422.5 417.6 417.9 C418.5 413.4 419.2 408.8 419.9 404.3 C420.5 399.7 421.0 395.1 421.5 390.5 C422.0 385.9 422.3 381.3 422.6 376.7 C422.9 372.1 423.1 367.4 423.2 362.8 C423.3 358.2 423.4 353.5 423.3 348.9 C423.3 344.3 423.2 339.6 423.1 335.0 C423.0 330.4 422.7 325.8 422.5 321.2 C422.3 316.5 422.0 311.9 421.7 307.3 C421.4 302.7 420.9 295.8 420.7 293.5" fill="none" stroke="#9068ae" stroke-width="3.2" stroke-linecap="round"/>
<path d="M419.1 277.6 L429.8 295.8 L420.7 294.0 L412.3 297.6 Z" fill="#9068ae"/>
<path d="M1308.1 525.6 C1309.4 524.8 1313.4 522.5 1316.0 520.9 C1318.5 519.3 1321.1 517.6 1323.6 515.9 C1326.1 514.2 1328.5 512.4 1331.0 510.6 C1333.4 508.8 1335.8 507.0 1338.1 505.1 C1340.5 503.2 1342.8 501.3 1345.0 499.3 C1347.3 497.3 1349.6 495.3 1351.8 493.2 C1354.0 491.2 1356.1 489.1 1358.3 486.9 C1360.4 484.8 1362.5 482.6 1364.6 480.4 C1366.6 478.2 1368.6 476.0 1370.6 473.7 C1372.6 471.5 1374.6 469.1 1376.5 466.8 C1378.4 464.5 1380.3 462.1 1382.2 459.7 C1384.0 457.3 1385.9 454.9 1387.6 452.5 C1389.4 450.0 1391.2 447.5 1392.9 445.0 C1394.6 442.5 1396.3 440.0 1397.9 437.5 C1399.5 434.9 1401.1 432.3 1402.7 429.7 C1404.2 427.1 1405.8 424.5 1407.2 421.8 C1408.7 419.2 1410.1 416.5 1411.5 413.8 C1412.9 411.1 1414.3 408.4 1415.6 405.7 C1416.9 403.0 1418.2 400.2 1419.4 397.5 C1420.6 394.7 1421.8 391.9 1422.9 389.1 C1424.1 386.3 1425.2 383.5 1426.2 380.6 C1427.2 377.8 1428.2 374.9 1429.2 372.1 C1430.1 369.2 1431.0 366.3 1431.9 363.4 C1432.7 360.5 1433.5 357.6 1434.3 354.7 C1435.0 351.7 1435.7 348.8 1436.4 345.8 C1437.0 342.9 1437.6 339.9 1438.2 337.0 C1438.7 334.0 1439.2 331.0 1439.6 328.0 C1440.1 325.0 1440.5 322.0 1440.8 319.0 C1441.1 316.0 1441.4 313.0 1441.6 310.0 C1441.9 307.0 1442.0 304.0 1442.2 300.9 C1442.3 297.9 1442.3 294.9 1442.3 291.9 C1442.3 288.8 1442.3 285.8 1442.2 282.8 C1442.1 279.7 1441.9 276.7 1441.7 273.7 C1441.5 270.7 1441.3 267.6 1441.0 264.6 C1440.6 261.6 1440.3 258.6 1439.9 255.6 C1439.4 252.6 1439.0 249.6 1438.5 246.6 C1437.9 243.6 1437.4 240.6 1436.8 237.7 C1436.1 234.7 1435.5 231.8 1434.8 228.8 C1434.1 225.9 1432.9 221.5 1432.5 220.1" fill="none" stroke="#9068ae" stroke-width="3.2" stroke-linecap="round"/>
<path d="M1428.4 204.6 L1441.8 220.9 L1432.6 220.6 L1424.8 225.4 Z" fill="#9068ae"/>
<path d="M507.2 123.3 C508.8 124.5 513.5 128.2 516.6 130.7 C519.7 133.2 522.8 135.8 525.8 138.4 C528.8 140.9 531.7 143.6 534.7 146.2 C537.6 148.9 540.5 151.6 543.3 154.3 C546.2 157.0 549.0 159.8 551.8 162.5 C554.5 165.3 557.3 168.1 560.0 171.0 C562.7 173.9 565.4 176.7 568.0 179.7 C570.7 182.6 573.3 185.5 575.9 188.5 C578.5 191.5 581.0 194.5 583.6 197.5 C586.1 200.5 588.6 203.6 591.0 206.7 C593.5 209.8 595.9 212.9 598.3 216.0 C600.7 219.2 603.1 222.4 605.4 225.6 C607.7 228.8 610.0 232.0 612.2 235.3 C614.5 238.5 616.7 241.8 618.9 245.1 C621.1 248.4 623.2 251.8 625.3 255.1 C627.4 258.5 629.5 261.9 631.5 265.3 C633.5 268.7 635.5 272.1 637.4 275.6 C639.3 279.1 641.2 282.6 643.1 286.1 C644.9 289.6 646.7 293.1 648.4 296.7 C650.2 300.2 651.9 303.8 653.5 307.4 C655.2 311.0 656.7 314.6 658.3 318.2 C659.8 321.9 661.3 325.5 662.7 329.2 C664.2 332.9 665.5 336.6 666.9 340.3 C668.2 344.1 669.4 347.8 670.6 351.6 C671.8 355.3 673.0 359.1 674.1 362.9 C675.1 366.7 676.2 370.5 677.1 374.3 C678.1 378.1 679.0 382.0 679.8 385.8 C680.7 389.7 681.5 393.6 682.2 397.4 C682.9 401.3 683.6 405.2 684.2 409.1 C684.8 413.0 685.3 416.9 685.8 420.9 C686.3 424.8 686.7 428.7 687.1 432.7 C687.4 436.6 687.7 440.6 688.0 444.5 C688.2 448.5 688.4 452.4 688.6 456.4 C688.7 460.4 688.8 464.3 688.9 468.3 C688.9 472.3 688.9 476.2 688.9 480.2 C688.8 484.2 688.8 488.1 688.6 492.1 C688.5 496.0 688.3 500.0 688.1 504.0 C688.0 507.9 687.7 511.8 687.5 515.8 C687.2 519.7 686.8 525.6 686.7 527.5" fill="none" stroke="#d0483e" stroke-width="3.2" stroke-linecap="round"/>
<path d="M685.4 543.5 L678.1 523.7 L686.7 527.0 L695.7 525.1 Z" fill="#d0483e"/>
<path d="M878.8 185.4 C880.6 186.1 885.8 188.0 889.3 189.4 C892.9 190.7 896.4 192.1 899.9 193.5 C903.4 195.0 906.9 196.4 910.4 197.9 C913.9 199.4 917.4 200.9 920.9 202.4 C924.4 204.0 927.8 205.6 931.3 207.2 C934.7 208.8 938.2 210.5 941.6 212.2 C945.0 213.9 948.4 215.7 951.8 217.4 C955.2 219.2 958.5 221.1 961.9 222.9 C965.2 224.8 968.5 226.7 971.8 228.6 C975.1 230.6 978.3 232.6 981.5 234.6 C984.7 236.7 987.9 238.7 991.1 240.9 C994.3 243.0 997.4 245.2 1000.5 247.4 C1003.6 249.6 1006.6 251.8 1009.7 254.1 C1012.7 256.4 1015.7 258.8 1018.6 261.1 C1021.6 263.5 1024.5 266.0 1027.4 268.4 C1030.3 270.9 1033.1 273.4 1035.9 276.0 C1038.7 278.5 1041.5 281.1 1044.2 283.7 C1046.9 286.4 1049.6 289.1 1052.2 291.8 C1054.9 294.5 1057.5 297.3 1060.0 300.1 C1062.6 302.9 1065.1 305.7 1067.6 308.6 C1070.0 311.4 1072.5 314.4 1074.8 317.3 C1077.2 320.3 1079.6 323.3 1081.8 326.3 C1084.1 329.3 1086.4 332.4 1088.6 335.5 C1090.8 338.5 1092.9 341.7 1095.1 344.8 C1097.2 348.0 1099.2 351.2 1101.2 354.4 C1103.3 357.6 1105.2 360.9 1107.2 364.2 C1109.1 367.5 1111.0 370.8 1112.8 374.1 C1114.6 377.5 1116.4 380.8 1118.1 384.2 C1119.9 387.6 1121.5 391.0 1123.2 394.5 C1124.8 397.9 1126.4 401.4 1127.9 404.9 C1129.4 408.4 1130.9 411.9 1132.4 415.4 C1133.8 418.9 1135.2 422.5 1136.5 426.1 C1137.8 429.6 1139.1 433.2 1140.3 436.8 C1141.5 440.4 1142.7 444.1 1143.8 447.7 C1144.9 451.3 1146.0 455.0 1147.0 458.6 C1148.0 462.3 1148.9 466.0 1149.8 469.7 C1150.7 473.4 1151.5 477.1 1152.2 480.8 C1153.0 484.5 1153.7 488.2 1154.4 492.0 C1155.0 495.7 1155.8 501.3 1156.1 503.2" fill="none" stroke="#d0483e" stroke-width="3.2" stroke-linecap="round"/>
<path d="M1158.5 519.0 L1146.9 501.4 L1156.0 502.7 L1164.3 498.7 Z" fill="#d0483e"/>
<rect x="1522.5" y="0" width="54.5" height="752" fill="#fff"/>
<rect x="0" y="726.5" width="1577" height="25.5" fill="#fff"/>
<line x1="1522" y1="0" x2="1522" y2="752" stroke="#e6e7ec" stroke-width="1.4"/>
<line x1="0" y1="726" x2="1577" y2="726" stroke="#e6e7ec" stroke-width="1.4"/>
<path d="M1521.3 319.3 H1569.3 a2.3 2.3 0 0 1 2.3 2.3 V334 a2.3 2.3 0 0 1 -2.3 2.3 H1521.3 Z" fill="#000"/>
<rect x="1525.9" y="5.2" width="45.2" height="24.8" rx="4.5" fill="#fff" stroke="#ebedf3" stroke-width="1.5"/>
<path d="M1561.2 17 L1564 19.6 L1566.8 17" fill="none" stroke="#3b3e48" stroke-width="1.5" stroke-linecap="round" stroke-linejoin="round"/>
<g transform="translate(1549,740)" fill="none" stroke="#3b3e48" stroke-width="1.4"><path d="M-3.4 -6 H3.4 L6.9 0 L3.4 6 H-3.4 L-6.9 0 Z" stroke-linejoin="round"/><circle cx="0" cy="0" r="1.9"/></g>
<defs><linearGradient id="solg" x1="1" y1="0" x2="0" y2="1"><stop offset="0" stop-color="#19e89b"/><stop offset="0.5" stop-color="#5a7ad8"/><stop offset="1" stop-color="#a03cf0"/></linearGradient></defs>
<circle cx="21.8" cy="13" r="5.9" fill="#0c9a98"/>
<path d="M19.2 10.6 H24.4 M21.8 10.6 V16.2" fill="none" stroke="#fff" stroke-opacity="0.55" stroke-width="1.3"/>
<ellipse cx="21.8" cy="13.3" rx="3.3" ry="1.1" fill="none" stroke="#fff" stroke-opacity="0.5" stroke-width="0.8"/>
<circle cx="15.45" cy="19.5" r="7.1" fill="#fff"/>
<circle cx="15.45" cy="19.5" r="6.1" fill="#08080c"/>
<path d="M13.6 16.9 H19.2 L18 18.5 H12.4 Z M12.4 18.9 H18 L19.2 20.5 H13.6 Z M13.6 20.9 H19.2 L18 22.5 H12.4 Z" fill="url(#solg)"/>
<circle cx="279.6" cy="16.7" r="8.6" fill="#d3efe9"/>
<circle cx="279.6" cy="16.7" r="4.2" fill="#109a83"/>
<g fill="#131722"><path d="M12.3 696.7 H24.1 V711.4 H18.4 V702.8 H12.3 Z"/><circle cx="29.5" cy="699.2" r="2.6"/><path d="M34.2 696.7 H41.9 L36.8 711.4 H29.4 Z"/></g>
<text x="331.70" y="91.5" font-size="23" fill="#880e4f" font-weight="400" text-anchor="start" textLength="13.96" lengthAdjust="spacingAndGlyphs" stroke="#880e4f" stroke-width="0.3">A</text>
<text x="487.20" y="97.5" font-size="23" fill="#880e4f" font-weight="400" text-anchor="start" textLength="13.93" lengthAdjust="spacingAndGlyphs" stroke="#880e4f" stroke-width="0.3">B</text>
<text x="595.50" y="67.3" font-size="18.6" fill="#4a148c" font-weight="400" text-anchor="start" textLength="78.60" lengthAdjust="spacingAndGlyphs" stroke="#4a148c" stroke-width="0.3">Двойная</text>
<text x="594.75" y="87.2" font-size="18.6" fill="#4a148c" font-weight="400" text-anchor="start" textLength="80.07" lengthAdjust="spacingAndGlyphs" stroke="#4a148c" stroke-width="0.3">вершина</text>
<text x="1104.20" y="57.2" font-size="28.4" fill="#b3262f" font-weight="400" text-anchor="start" textLength="162.62" lengthAdjust="spacingAndGlyphs" stroke="#b3262f" stroke-width="0.3">SOL/USD day</text>
<text x="253.10" y="206.5" font-size="25" fill="#1e6324" font-weight="400" text-anchor="start" textLength="13.91" lengthAdjust="spacingAndGlyphs" stroke="#1e6324" stroke-width="0.3">h</text>
<text x="503.10" y="384.6" font-size="25" fill="#1e6324" font-weight="400" text-anchor="start" textLength="13.91" lengthAdjust="spacingAndGlyphs" stroke="#1e6324" stroke-width="0.3">h</text>
<text x="1352.10" y="276.6" font-size="25" fill="#1e6324" font-weight="400" text-anchor="start" textLength="13.72" lengthAdjust="spacingAndGlyphs" stroke="#1e6324" stroke-width="0.3">h</text>
<text x="1360.20" y="432.6" font-size="25" fill="#1e6324" font-weight="400" text-anchor="start" textLength="13.72" lengthAdjust="spacingAndGlyphs" stroke="#1e6324" stroke-width="0.3">h</text>
<text x="1095.80" y="541.3" font-size="23" fill="#4527a0" font-weight="400" text-anchor="start" textLength="13.81" lengthAdjust="spacingAndGlyphs" stroke="#4527a0" stroke-width="0.3">A</text>
<text x="1234.75" y="539.5" font-size="23" fill="#5b1a9c" font-weight="400" text-anchor="start" textLength="14.67" lengthAdjust="spacingAndGlyphs" stroke="#5b1a9c" stroke-width="0.3">B</text>
<text x="1150.00" y="583.4" font-size="18.6" fill="#2e6b34" font-weight="400" text-anchor="start" textLength="78.75" lengthAdjust="spacingAndGlyphs" stroke="#2e6b34" stroke-width="0.3">Двойное</text>
<text x="1167.80" y="604.0" font-size="18.6" fill="#2e6b34" font-weight="400" text-anchor="start" textLength="33.62" lengthAdjust="spacingAndGlyphs" stroke="#2e6b34" stroke-width="0.3">дно</text>
<text x="30.90" y="22.4" font-size="16.4" fill="#3f424d" font-weight="400" text-anchor="start" textLength="223.56" lengthAdjust="spacingAndGlyphs" stroke="#3f424d" stroke-width="0.15">Solana / Tether · 1Д · COINBASE</text>
<text x="303.20" y="21.8" font-size="13" fill="#5a5d68" font-weight="400" text-anchor="start" textLength="33.16" lengthAdjust="spacingAndGlyphs" stroke="#5a5d68" stroke-width="0.1">ОТКР</text>
<text x="337.00" y="21.8" font-size="13" fill="#33363f" font-weight="400" text-anchor="start" textLength="39.71" lengthAdjust="spacingAndGlyphs" stroke="#33363f" stroke-width="0.1">155,70</text>
<text x="380.80" y="21.8" font-size="13" fill="#5a5d68" font-weight="400" text-anchor="start" textLength="33.77" lengthAdjust="spacingAndGlyphs" stroke="#5a5d68" stroke-width="0.1">МАКС</text>
<text x="415.70" y="21.8" font-size="13" fill="#33363f" font-weight="400" text-anchor="start" textLength="39.30" lengthAdjust="spacingAndGlyphs" stroke="#33363f" stroke-width="0.1">161,59</text>
<text x="459.80" y="21.8" font-size="13" fill="#5a5d68" font-weight="400" text-anchor="start" textLength="28.27" lengthAdjust="spacingAndGlyphs" stroke="#5a5d68" stroke-width="0.1">МИН</text>
<text x="488.80" y="21.8" font-size="13" fill="#33363f" font-weight="400" text-anchor="start" textLength="38.78" lengthAdjust="spacingAndGlyphs" stroke="#33363f" stroke-width="0.1">155,67</text>
<text x="533.50" y="21.8" font-size="13" fill="#5a5d68" font-weight="400" text-anchor="start" textLength="30.25" lengthAdjust="spacingAndGlyphs" stroke="#5a5d68" stroke-width="0.1">ЗАКР</text>
<text x="564.00" y="21.8" font-size="13" fill="#33363f" font-weight="400" text-anchor="start" textLength="39.51" lengthAdjust="spacingAndGlyphs" stroke="#33363f" stroke-width="0.1">159,85</text>
<text x="609.50" y="21.8" font-size="13" fill="#33363f" font-weight="400" text-anchor="start" textLength="85.02" lengthAdjust="spacingAndGlyphs" stroke="#33363f" stroke-width="0.1">+4,40 (+2,83%)</text>
<text x="1530.15" y="332.3" font-size="12" fill="#ffffff" font-weight="700" text-anchor="start" textLength="36.34" lengthAdjust="spacingAndGlyphs">159,85</text>
<text x="1528.95" y="21.7" font-size="12.6" fill="#3b3e48" font-weight="400" text-anchor="start" textLength="28.43" lengthAdjust="spacingAndGlyphs" stroke="#3b3e48" stroke-width="0.1">USDT</text>
<text x="49.45" y="711.4" font-size="20.5" fill="#131722" font-weight="700" text-anchor="start" textLength="120.59" lengthAdjust="spacingAndGlyphs">TradingView</text>
<text x="1530.50" y="76.6" font-size="12" fill="#3b3e48" font-weight="400" text-anchor="start" textLength="35.98" lengthAdjust="spacingAndGlyphs" stroke="#3b3e48" stroke-width="0.1">210,00</text>
<text x="1530.50" y="127.4" font-size="12" fill="#3b3e48" font-weight="400" text-anchor="start" textLength="35.98" lengthAdjust="spacingAndGlyphs" stroke="#3b3e48" stroke-width="0.1">200,00</text>
<text x="1530.25" y="178.2" font-size="12" fill="#3b3e48" font-weight="400" text-anchor="start" textLength="36.24" lengthAdjust="spacingAndGlyphs" stroke="#3b3e48" stroke-width="0.1">190,00</text>
<text x="1530.25" y="228.9" font-size="12" fill="#3b3e48" font-weight="400" text-anchor="start" textLength="36.24" lengthAdjust="spacingAndGlyphs" stroke="#3b3e48" stroke-width="0.1">180,00</text>
<text x="1530.25" y="279.7" font-size="12" fill="#3b3e48" font-weight="400" text-anchor="start" textLength="36.24" lengthAdjust="spacingAndGlyphs" stroke="#3b3e48" stroke-width="0.1">170,00</text>
<text x="1530.25" y="381.3" font-size="12" fill="#3b3e48" font-weight="400" text-anchor="start" textLength="36.24" lengthAdjust="spacingAndGlyphs" stroke="#3b3e48" stroke-width="0.1">150,00</text>
<text x="1530.25" y="432.1" font-size="12" fill="#3b3e48" font-weight="400" text-anchor="start" textLength="36.24" lengthAdjust="spacingAndGlyphs" stroke="#3b3e48" stroke-width="0.1">140,00</text>
<text x="1530.25" y="482.8" font-size="12" fill="#3b3e48" font-weight="400" text-anchor="start" textLength="36.24" lengthAdjust="spacingAndGlyphs" stroke="#3b3e48" stroke-width="0.1">130,00</text>
<text x="1530.25" y="533.6" font-size="12" fill="#3b3e48" font-weight="400" text-anchor="start" textLength="36.24" lengthAdjust="spacingAndGlyphs" stroke="#3b3e48" stroke-width="0.1">120,00</text>
<text x="1530.25" y="584.4" font-size="12" fill="#3b3e48" font-weight="400" text-anchor="start" textLength="36.38" lengthAdjust="spacingAndGlyphs" stroke="#3b3e48" stroke-width="0.1">110,00</text>
<text x="1530.25" y="635.2" font-size="12" fill="#3b3e48" font-weight="400" text-anchor="start" textLength="36.24" lengthAdjust="spacingAndGlyphs" stroke="#3b3e48" stroke-width="0.1">100,00</text>
<text x="1530.50" y="686.0" font-size="12" fill="#3b3e48" font-weight="400" text-anchor="start" textLength="30.39" lengthAdjust="spacingAndGlyphs" stroke="#3b3e48" stroke-width="0.1">90,00</text>
<text x="-3.55" y="743.6" font-size="12" fill="#3b3e48" font-weight="700" text-anchor="start" textLength="23.20" lengthAdjust="spacingAndGlyphs">Фев</text>
<text x="87.55" y="743.6" font-size="12" fill="#3b3e48" font-weight="400" text-anchor="start" textLength="12.57" lengthAdjust="spacingAndGlyphs">12</text>
<text x="222.15" y="743.6" font-size="12" fill="#3b3e48" font-weight="700" text-anchor="start" textLength="24.10" lengthAdjust="spacingAndGlyphs">Мар</text>
<text x="360.55" y="743.6" font-size="12" fill="#3b3e48" font-weight="400" text-anchor="start" textLength="12.57" lengthAdjust="spacingAndGlyphs">18</text>
<text x="464.70" y="743.6" font-size="12" fill="#3b3e48" font-weight="700" text-anchor="start" textLength="22.94" lengthAdjust="spacingAndGlyphs">Апр</text>
<text x="578.95" y="743.6" font-size="12" fill="#3b3e48" font-weight="400" text-anchor="start" textLength="12.29" lengthAdjust="spacingAndGlyphs">15</text>
<text x="698.15" y="743.6" font-size="12" fill="#3b3e48" font-weight="700" text-anchor="start" textLength="24.04" lengthAdjust="spacingAndGlyphs">Май</text>
<text x="797.35" y="743.6" font-size="12" fill="#3b3e48" font-weight="400" text-anchor="start" textLength="12.57" lengthAdjust="spacingAndGlyphs">13</text>
<text x="939.25" y="743.6" font-size="12" fill="#3b3e48" font-weight="700" text-anchor="start" textLength="25.27" lengthAdjust="spacingAndGlyphs">Июн</text>
<text x="1070.35" y="743.6" font-size="12" fill="#3b3e48" font-weight="400" text-anchor="start" textLength="12.57" lengthAdjust="spacingAndGlyphs">17</text>
<text x="1173.25" y="743.6" font-size="12" fill="#3b3e48" font-weight="700" text-anchor="start" textLength="25.35" lengthAdjust="spacingAndGlyphs">Июл</text>
<text x="1288.75" y="743.6" font-size="12" fill="#3b3e48" font-weight="400" text-anchor="start" textLength="12.29" lengthAdjust="spacingAndGlyphs">15</text>
<text x="1418.55" y="743.6" font-size="12" fill="#3b3e48" font-weight="700" text-anchor="start" textLength="18.43" lengthAdjust="spacingAndGlyphs">Авг</text>
<text x="1507.15" y="743.6" font-size="12" fill="#3b3e48" font-weight="400" text-anchor="start" textLength="12.57" lengthAdjust="spacingAndGlyphs">12</text>
<rect x="0.6" y="0.6" width="1575.8" height="770" rx="3" fill="none" stroke="#e7e9f4" stroke-width="1.3"/>
</svg></body></html>
